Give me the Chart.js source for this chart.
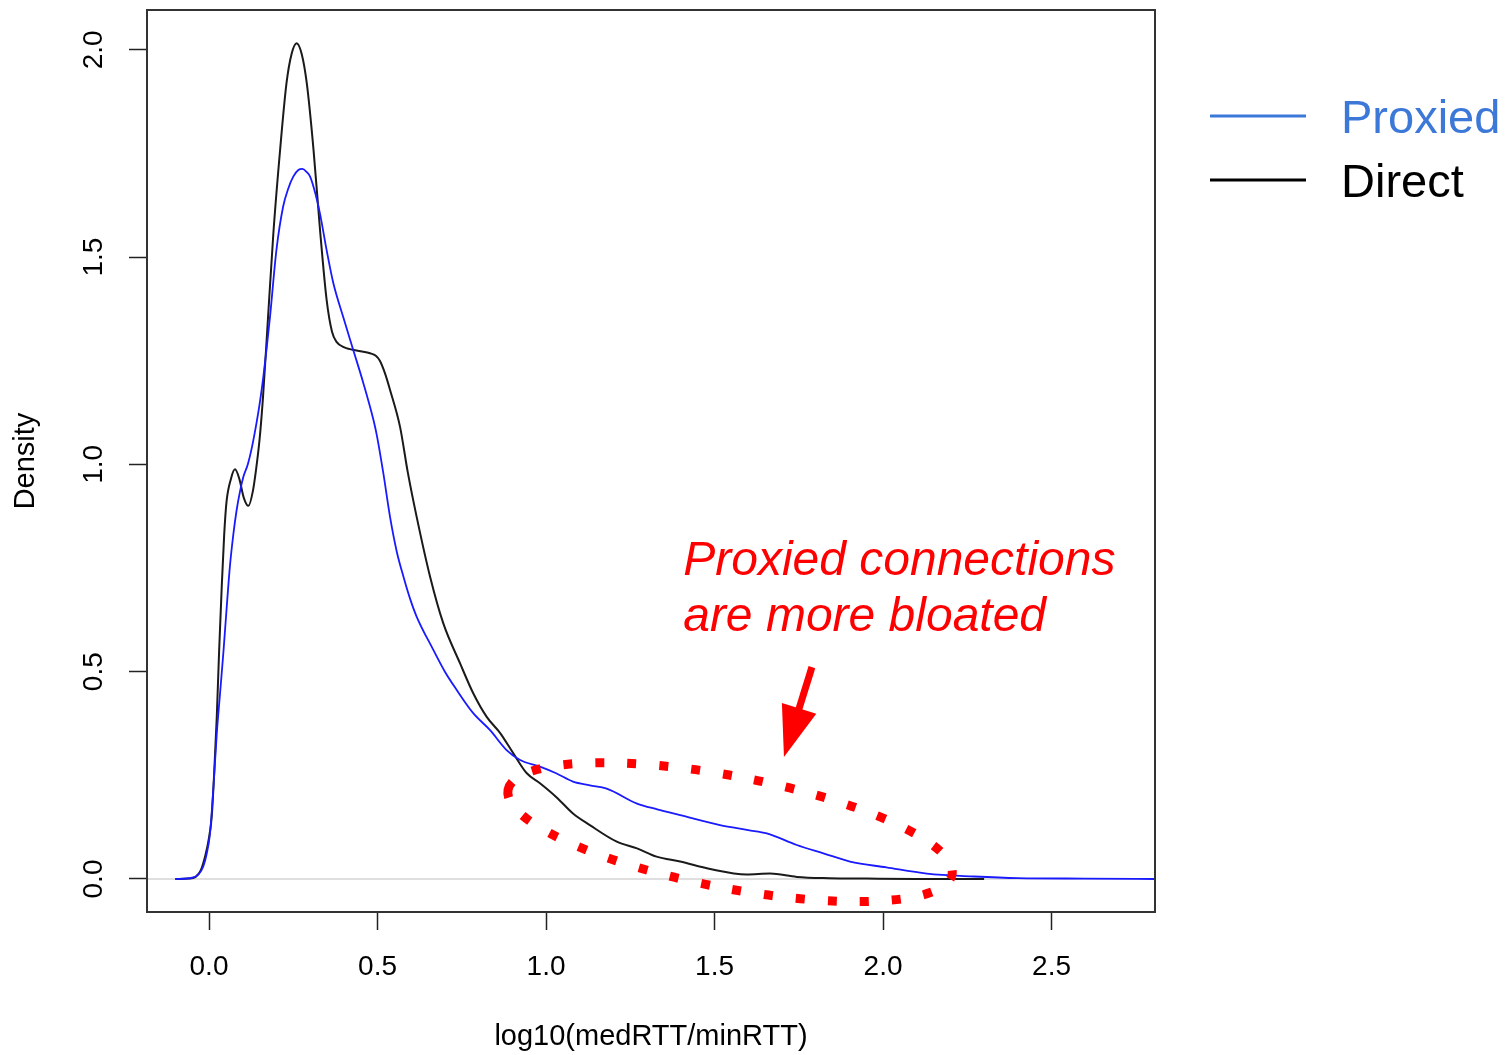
<!DOCTYPE html>
<html>
<head>
<meta charset="utf-8">
<script src="https://cdn.jsdelivr.net/npm/chart.js@4.4.1/dist/chart.umd.min.js"></script>
<style>
  html, body { margin: 0; padding: 0; background: #fff; }
  canvas { display: block; }
</style>
</head>
<body>
<canvas id="grafico" width="1507" height="1055"></canvas>
<script>
// densidade de log10(medRTT/minRTT)
const directX = [-0.1, -0.06, -0.04, -0.025, -0.01, 0.0, 0.008, 0.015, 0.023, 0.03, 0.038, 0.045, 0.052, 0.065, 0.077, 0.09, 0.103, 0.117, 0.13, 0.14, 0.15, 0.16, 0.171, 0.191, 0.211, 0.23, 0.245, 0.26, 0.275, 0.29, 0.31, 0.33, 0.349, 0.365, 0.379, 0.4, 0.418, 0.45, 0.478, 0.495, 0.507, 0.522, 0.537, 0.567, 0.59, 0.616, 0.656, 0.695, 0.745, 0.784, 0.824, 0.864, 0.903, 0.943, 0.982, 1.03, 1.08, 1.13, 1.21, 1.27, 1.328, 1.398, 1.487, 1.595, 1.665, 1.744, 1.84, 1.95, 2.1, 2.3];
const directY = [0, 0.001, 0.005, 0.02, 0.06, 0.1, 0.15, 0.25, 0.39, 0.55, 0.71, 0.83, 0.91, 0.965, 0.988, 0.965, 0.92, 0.90, 0.935, 0.99, 1.06, 1.16, 1.30, 1.558, 1.759, 1.92, 1.99, 2.016, 1.99, 1.92, 1.76, 1.56, 1.397, 1.32, 1.295, 1.283, 1.278, 1.273, 1.268, 1.262, 1.25, 1.22, 1.18, 1.09, 0.98, 0.874, 0.729, 0.617, 0.52, 0.448, 0.391, 0.352, 0.303, 0.255, 0.231, 0.198, 0.158, 0.13, 0.09, 0.074, 0.054, 0.042, 0.024, 0.011, 0.013, 0.005, 0.002, 0.001, 0, 0];

const proxiedX = [-0.1, -0.05, -0.03, -0.017, -0.007, 0.003, 0.013, 0.023, 0.033, 0.043, 0.052, 0.062, 0.072, 0.082, 0.092, 0.102, 0.115, 0.127, 0.141, 0.151, 0.161, 0.171, 0.181, 0.2, 0.22, 0.235, 0.25, 0.265, 0.277, 0.29, 0.3, 0.315, 0.329, 0.349, 0.369, 0.398, 0.428, 0.458, 0.488, 0.498, 0.517, 0.537, 0.557, 0.577, 0.597, 0.616, 0.666, 0.7, 0.735, 0.784, 0.834, 0.883, 0.923, 0.982, 1.03, 1.08, 1.13, 1.18, 1.27, 1.33, 1.398, 1.516, 1.6, 1.655, 1.744, 1.823, 1.902, 2.01, 2.13, 2.27, 2.4, 2.6, 2.807];
const proxiedY = [0, 0.003, 0.012, 0.03, 0.06, 0.11, 0.22, 0.35, 0.45, 0.55, 0.65, 0.754, 0.83, 0.89, 0.935, 0.97, 1.0, 1.04, 1.10, 1.15, 1.21, 1.28, 1.356, 1.517, 1.622, 1.665, 1.694, 1.71, 1.713, 1.705, 1.694, 1.655, 1.606, 1.517, 1.437, 1.356, 1.276, 1.196, 1.107, 1.07, 0.98, 0.874, 0.79, 0.729, 0.675, 0.633, 0.552, 0.5, 0.456, 0.4, 0.359, 0.311, 0.287, 0.271, 0.255, 0.235, 0.226, 0.218, 0.182, 0.168, 0.154, 0.13, 0.118, 0.11, 0.082, 0.062, 0.042, 0.028, 0.013, 0.006, 0.002, 0.001, 0];

const xTicks = [0, 0.5, 1, 1.5, 2, 2.5];
const yTicks = [0, 0.5, 1, 1.5, 2];
const seriesNames = ['Proxied', 'Direct'];
const noteLines = ['Proxied connections', 'are more bloated'];

// posições das anotações em unidades dos dados
const notePos = { x: 1.407, y: 0.733 };
const arrowFrom = { x: 1.789, y: 0.511 };
const arrowTo = { x: 1.706, y: 0.294 };
const ellipseCenter = { x: 1.546, y: 0.113 };

function pontos(xs, ys) {
    return xs.map((x, i) => ({ x: x, y: ys[i] }));
}

const regular = "'Liberation Sans', Arial, sans-serif";

const extras = {
    id: 'extras',
    beforeDatasetsDraw(chart) {
        const ctx = chart.ctx;
        const a = chart.chartArea;
        const y0 = chart.scales.y.getPixelForValue(0);
        ctx.save();
        ctx.strokeStyle = '#d4d4d4';
        ctx.lineWidth = 1.5;
        ctx.beginPath();
        ctx.moveTo(a.left, y0);
        ctx.lineTo(a.right, y0);
        ctx.stroke();
        ctx.restore();
    },
    afterDraw(chart) {
        const ctx = chart.ctx;
        const a = chart.chartArea;
        const sx = chart.scales.x;
        const sy = chart.scales.y;

        ctx.save();
        // caixa
        ctx.strokeStyle = '#333';
        ctx.lineWidth = 2;
        ctx.strokeRect(a.left, a.top, a.right - a.left, a.bottom - a.top);

        // rótulos do eixo y, girados
        ctx.fillStyle = '#000';
        ctx.font = '28px ' + regular;
        ctx.textAlign = 'center';
        ctx.textBaseline = 'alphabetic';
        yTicks.forEach(v => {
            ctx.save();
            ctx.translate(a.left - 45, sy.getPixelForValue(v));
            ctx.rotate(-Math.PI / 2);
            ctx.fillText(v.toFixed(1), 0, 0);
            ctx.restore();
        });

        // elipse pontilhada
        ctx.save();
        ctx.strokeStyle = '#ff0000';
        ctx.lineWidth = 9;
        ctx.setLineDash([9, 23]);
        ctx.beginPath();
        ctx.ellipse(sx.getPixelForValue(ellipseCenter.x), sy.getPixelForValue(ellipseCenter.y),
            226, 56, 10.8 * Math.PI / 180, Math.PI, 3 * Math.PI);
        ctx.stroke();
        ctx.restore();

        // seta
        const x1 = sx.getPixelForValue(arrowFrom.x), y1 = sy.getPixelForValue(arrowFrom.y);
        const x2 = sx.getPixelForValue(arrowTo.x), y2 = sy.getPixelForValue(arrowTo.y);
        const len = Math.hypot(x2 - x1, y2 - y1);
        const ux = (x2 - x1) / len, uy = (y2 - y1) / len;
        const bx = x2 - ux * 51, by = y2 - uy * 51;
        ctx.strokeStyle = '#ff0000';
        ctx.fillStyle = '#ff0000';
        ctx.lineWidth = 7;
        ctx.beginPath();
        ctx.moveTo(x1, y1);
        ctx.lineTo(bx + ux * 4, by + uy * 4);
        ctx.stroke();
        ctx.beginPath();
        ctx.moveTo(x2, y2);
        ctx.lineTo(bx - uy * 18, by + ux * 18);
        ctx.lineTo(bx + uy * 18, by - ux * 18);
        ctx.closePath();
        ctx.fill();

        // texto da anotação
        ctx.font = 'italic 48px ' + regular;
        ctx.textAlign = 'left';
        ctx.textBaseline = 'alphabetic';
        const tx = sx.getPixelForValue(notePos.x), ty = sy.getPixelForValue(notePos.y);
        noteLines.forEach((t, i) => ctx.fillText(t, tx, ty + i * 56));

        // legenda
        const cores = ['#3c78d8', '#000000'];
        ctx.font = '47px ' + regular;
        seriesNames.forEach((nome, i) => {
            const ly = a.top + 106 + i * 64;
            ctx.strokeStyle = cores[i];
            ctx.lineWidth = 3;
            ctx.beginPath();
            ctx.moveTo(a.right + 55, ly);
            ctx.lineTo(a.right + 151, ly);
            ctx.stroke();
            ctx.fillStyle = cores[i];
            ctx.fillText(nome, a.right + 186, ly + 17);
        });
        ctx.restore();
    }
};

const ctx = document.getElementById('grafico').getContext('2d');
new Chart(ctx, {
    type: 'line',
    data: {
        datasets: [{
            label: seriesNames[0],
            data: pontos(proxiedX, proxiedY),
            borderColor: '#1a1aff',
            borderWidth: 1.8,
            pointRadius: 0,
            cubicInterpolationMode: 'monotone',
            fill: false
        }, {
            label: seriesNames[1],
            data: pontos(directX, directY),
            borderColor: '#1a1a1a',
            borderWidth: 2,
            pointRadius: 0,
            cubicInterpolationMode: 'monotone',
            fill: false
        }]
    },
    options: {
        responsive: false,
        devicePixelRatio: 1,
        animation: false,
        layout: { padding: { left: 0, top: 10, right: 352, bottom: 0 } },
        plugins: {
            legend: { display: false },
            tooltip: { enabled: false }
        },
        scales: {
            x: {
                type: 'linear',
                min: -0.184,
                max: 2.807,
                afterFit: s => { s.height = 143; },
                afterBuildTicks: s => { s.ticks = xTicks.map(v => ({ value: v })); },
                border: { display: false },
                grid: {
                    drawOnChartArea: false,
                    drawTicks: true,
                    tickLength: 18,
                    tickColor: '#222',
                    tickWidth: 1.5
                },
                ticks: {
                    autoSkip: false,
                    maxRotation: 0,
                    padding: 20,
                    color: '#000',
                    font: { family: regular, size: 28 },
                    callback: v => v.toFixed(1)
                },
                title: {
                    display: true,
                    text: 'log10(medRTT/minRTT)',
                    color: '#000',
                    font: { family: regular, size: 29, lineHeight: 1 },
                    padding: { top: 0, bottom: 4 }
                }
            },
            y: {
                min: -0.0796,
                max: 2.096,
                afterFit: s => { s.width = 147; },
                afterBuildTicks: s => { s.ticks = yTicks.map(v => ({ value: v })); },
                border: { display: false },
                grid: {
                    drawOnChartArea: false,
                    drawTicks: true,
                    tickLength: 18,
                    tickColor: '#222',
                    tickWidth: 1.5
                },
                ticks: { display: false },
                title: {
                    display: true,
                    text: 'Density',
                    color: '#000',
                    font: { family: regular, size: 29, lineHeight: 1 },
                    padding: { top: 11, bottom: 0 }
                }
            }
        }
    },
    plugins: [extras]
});
</script>
</body>
</html>
